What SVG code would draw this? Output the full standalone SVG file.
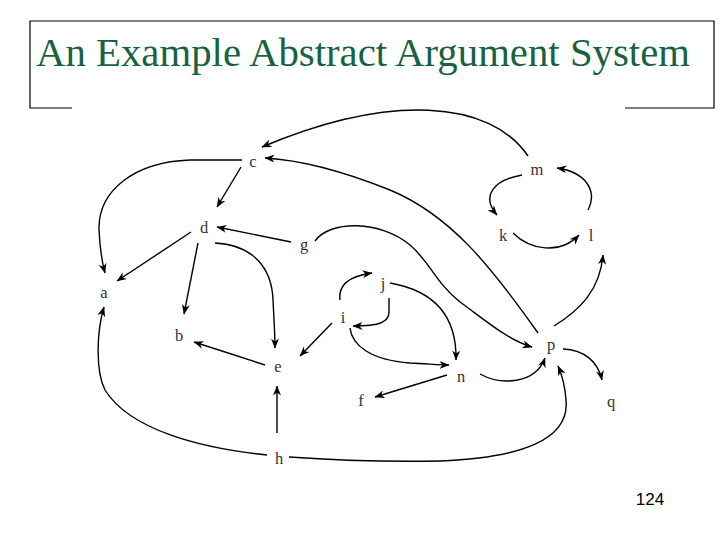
<svg xmlns="http://www.w3.org/2000/svg" width="720" height="540" viewBox="0 0 720 540">
<style>
.frame{stroke:#000;stroke-width:1.2;fill:none}
.title{font-family:"Liberation Serif",serif;font-size:39px;fill:#17623f}
.lbl{font-family:"Liberation Serif",serif;font-size:16.5px;fill:#333;text-anchor:middle}
.num{font-family:"Liberation Sans",Arial,sans-serif;font-size:17px;fill:#000;text-anchor:middle}
.edge{stroke:#000;stroke-width:1.4;fill:none;marker-end:url(#ah)}
</style>
<defs>
<marker id="ah" viewBox="0 0 10 8" refX="9.5" refY="4" markerWidth="10" markerHeight="8" markerUnits="userSpaceOnUse" orient="auto">
<path d="M0,0 L10,4 L0,8 L3,4 Z" fill="#000"/>
</marker>
</defs>
<rect width="720" height="540" fill="#fff"/>
<g id="title-frame">
<path class="frame" d="M72,108 L30,108 L30,21 L714,21 L714,108 L625,108"/>
<text class="title" x="36" y="66" textLength="654" lengthAdjust="spacingAndGlyphs">An Example Abstract Argument System</text>
</g>
<g id="connectors">
<path class="edge" d="M528,156 C490,100 390,93 262,147"/>
<path class="edge" d="M242,160 L190,160 C135,162 98,190 99,230 C100,250 102,262 105,273"/>
<path class="edge" d="M241,167 L217,207"/>
<path class="edge" d="M538,333 C490,265 450,215 390,190 C340,170 300,160 265,158"/>
<path class="edge" d="M291,242 L217,227"/>
<path class="edge" d="M315,241 C330,220 380,220 410,245 C430,262 435,282 460,302 C485,320 508,340 532,347"/>
<path class="edge" d="M390,283 C430,290 457,312 456,360"/>
<path class="edge" d="M389,298 L389,312 C389,322 380,326 353,326"/>
<path class="edge" d="M340,300 C338,285 350,276 372,273"/>
<path class="edge" d="M350,328 C352,345 370,360 410,363 C430,364 440,365 449,365"/>
<path class="edge" d="M332,323 L300,356"/>
<path class="edge" d="M447,375 L375,397"/>
<path class="edge" d="M480,374 C500,385 535,385 545,358"/>
<path class="edge" d="M289,457 C330,460 380,462 440,461 C520,458 570,440 566,400 C565,385 562,375 558,366"/>
<path class="edge" d="M267,455 C200,448 130,430 105,390 C95,370 97,330 104,307"/>
<path class="edge" d="M277,433 L277,386"/>
<path class="edge" d="M265,365 L194,342"/>
<path class="edge" d="M198,243 L184,314"/>
<path class="edge" d="M215,243 C255,245 272,270 273,300 C274,320 275,335 275,348"/>
<path class="edge" d="M191,232 L117,281"/>
<path class="edge" d="M522,175 C495,180 480,195 497,215"/>
<path class="edge" d="M513,233 C530,250 560,255 579,235"/>
<path class="edge" d="M588,210 C598,190 585,172 557,168"/>
<path class="edge" d="M554,326 C580,310 600,290 603,255"/>
<path class="edge" d="M563,349 C585,350 598,362 602,380"/>
</g>
<g id="node-c"><text class="lbl" x="253" y="167">c</text></g>
<g id="node-m"><text class="lbl" x="537" y="175">m</text></g>
<g id="node-d"><text class="lbl" x="204" y="233">d</text></g>
<g id="node-g"><text class="lbl" x="304" y="250">g</text></g>
<g id="node-k"><text class="lbl" x="503" y="241">k</text></g>
<g id="node-l"><text class="lbl" x="591" y="241">l</text></g>
<g id="node-a"><text class="lbl" x="104" y="298">a</text></g>
<g id="node-j"><text class="lbl" x="383" y="289">j</text></g>
<g id="node-i"><text class="lbl" x="343" y="323">i</text></g>
<g id="node-b"><text class="lbl" x="179" y="341">b</text></g>
<g id="node-p"><text class="lbl" x="551" y="350">p</text></g>
<g id="node-e"><text class="lbl" x="278" y="372">e</text></g>
<g id="node-n"><text class="lbl" x="461" y="382">n</text></g>
<g id="node-f"><text class="lbl" x="361" y="406">f</text></g>
<g id="node-q"><text class="lbl" x="611" y="407">q</text></g>
<g id="node-h"><text class="lbl" x="279" y="464">h</text></g>
<g id="page-number"><text class="num" x="650" y="505">124</text></g>
</svg>
